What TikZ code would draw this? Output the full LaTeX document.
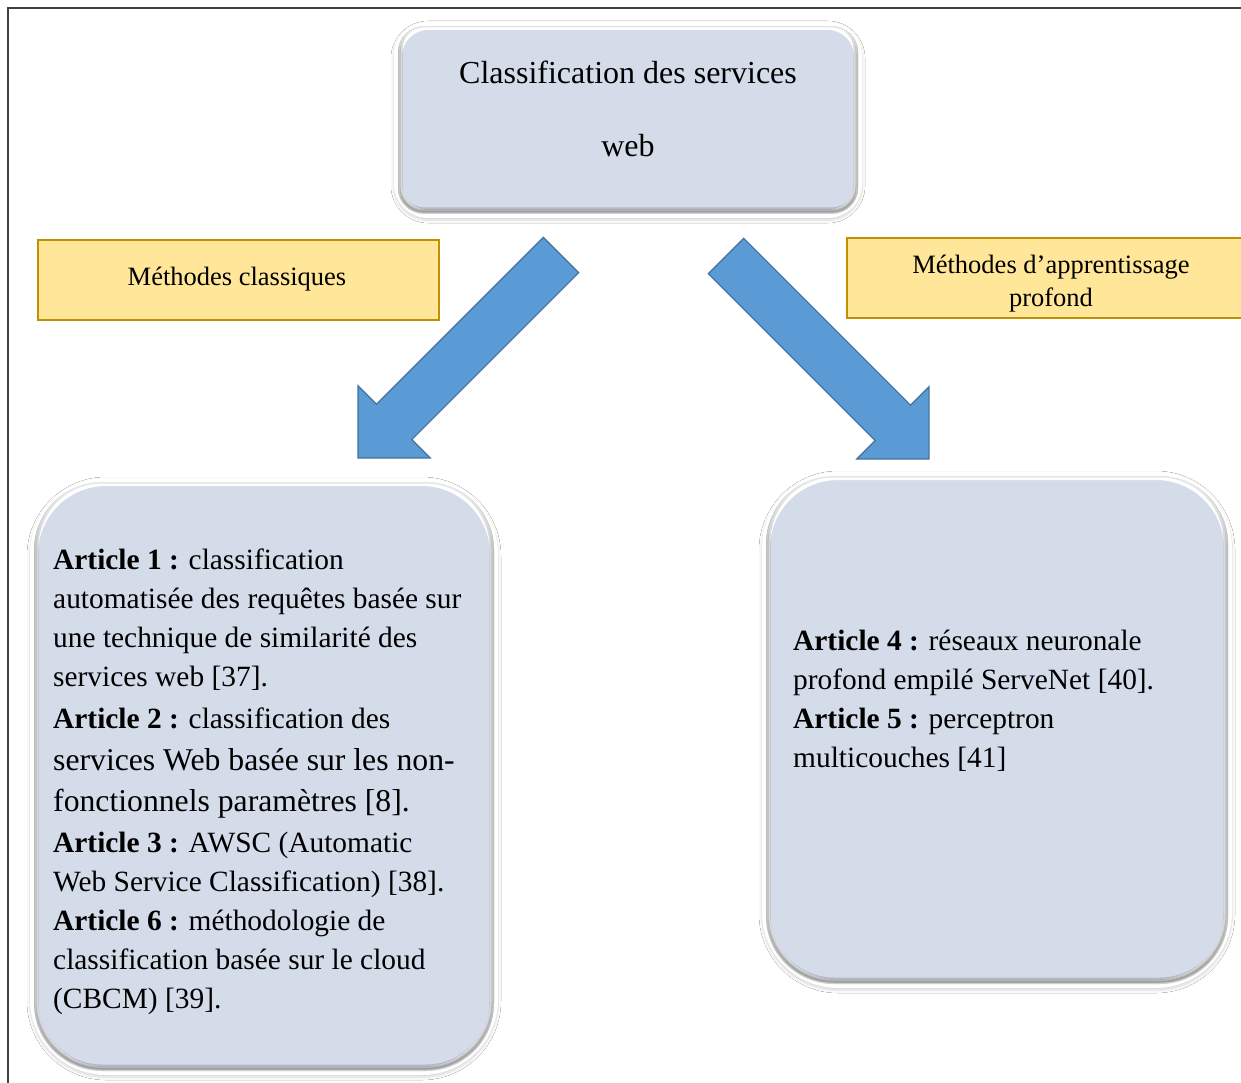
\documentclass[tikz,border=0pt]{standalone}
\usepackage{fontspec}
\setmainfont{Liberation Serif}
\usetikzlibrary{calc,shadows.blur}

\definecolor{panelfill}{HTML}{D4DBE9}
\definecolor{tagfill}{HTML}{FFE699}
\definecolor{tagedge}{HTML}{BF9000}
\definecolor{arrowfill}{HTML}{5B9BD5}
\definecolor{arrowedge}{HTML}{41719C}
\definecolor{framegray}{HTML}{404040}

% darker inner rim along the lower edge of a panel (node name, inner radius)
\newcommand{\panelbevel}[2]{%
  \begin{scope}
    \clip[rounded corners=#2] ($(#1.north west)+(4,-4)$) rectangle ($(#1.south east)+(-4,4)$);
    \foreach \w in {2,5,9}
      \draw[black, opacity=0.15, line width=\w pt, rounded corners=#2]
        ($(#1.north west)+(4,-1)$) rectangle ($(#1.south east)+(-4,6)$);
    \draw[white, opacity=0.35, line width=3pt, rounded corners=#2]
        ($(#1.north west)+(4,-5)$) rectangle ($(#1.south east)+(-4,4)$);
  \end{scope}}

\begin{document}
\begin{tikzpicture}[x=1pt,y=1pt,
  panel/.style={draw=white, line width=8pt, fill=panelfill, inner sep=0pt,
    blur shadow={shadow xshift=0pt, shadow yshift=-2pt,
      shadow blur radius=7pt, shadow opacity=45}},
  tag/.style={fill=tagfill, draw=tagedge, line width=2.5pt, inner sep=0pt},
  taglabel/.style={inner sep=0pt, align=center, font=\fontsize{26.5}{33}\selectfont},
  blockarrow/.style={fill=arrowfill, draw=arrowedge, line width=1.2pt, line join=miter},
  bodytext/.style={anchor=base west, inner sep=0pt, font=\fontsize{29.4}{39}\selectfont},
  framebox/.style={draw=framegray, line width=1.5pt}]

\useasboundingbox (0,0) rectangle (1241,-1083);
\fill[white] (0,0) rectangle (1241,-1083);
\draw[framebox] (8,-8) rectangle (1300,-1120);

% root node
\node[panel, minimum width=460, minimum height=188, rounded corners=30] (root) at (628,-120) {};
\panelbevel{root}{26}
\node[anchor=base, inner sep=0pt, font=\fontsize{32}{73}\selectfont] (roottext) at (628,-84)
  {\begin{tabular}[t]{@{}c@{}}Classification des services\\web\end{tabular}};

% branch arrows
\begin{scope}[shift={(561,-255)}, rotate=225]
  \draw[blockarrow] (0,25) -- (236,25) -- (236,51) -- (287,0) -- (236,-51) -- (236,-25) -- (0,-25) -- cycle;
\end{scope}
\begin{scope}[shift={(726,-256)}, rotate=-45]
  \draw[blockarrow] (0,25) -- (236,25) -- (236,51) -- (287,0) -- (236,-51) -- (236,-25) -- (0,-25) -- cycle;
\end{scope}

% branch labels
\node[tag, minimum width=401, minimum height=80] (classic) at (238.5,-280) {};
\node[taglabel] (classiclabel) at (237,-279) {Méthodes classiques};
\node[tag, minimum width=403, minimum height=80] (deep) at (1048.5,-278) {};
\node[taglabel] (deeplabel) at (1051,-284) {Méthodes d’apprentissage\\profond};

% classical methods panel
\node[panel, minimum width=460, minimum height=589, rounded corners=72] (classicbox) at (264,-776.5) {};
\panelbevel{classicbox}{68}
\node[bodytext] (classictext) at (53,-569) {\begin{tabular}[t]{@{}l@{}}
\textbf{Article 1 :} classification\\
automatisée des requêtes basée sur\\
une technique de similarité des\\
services web [37].\\[3pt]
\textbf{Article 2 :} classification des\\[3pt]
{\fontsize{31.7}{39}\selectfont services Web basée sur les non-}\\[2pt]
{\fontsize{31.7}{39}\selectfont fonctionnels paramètres [8].}\\[2pt]
\textbf{Article 3 :} AWSC (Automatic\\
Web Service Classification) [38].\\
\textbf{Article 6 :} méthodologie de\\
classification basée sur le cloud\\
(CBCM) [39].
\end{tabular}};

% deep learning panel
\node[panel, minimum width=462, minimum height=508, rounded corners=72] (deepbox) at (997,-730) {};
\panelbevel{deepbox}{68}
\node[bodytext] (deeptext) at (793,-650) {\begin{tabular}[t]{@{}l@{}}
\textbf{Article 4 :} réseaux neuronale\\
profond empilé ServeNet [40].\\
\textbf{Article 5 :} perceptron\\
multicouches [41]
\end{tabular}};

\end{tikzpicture}
\end{document}
